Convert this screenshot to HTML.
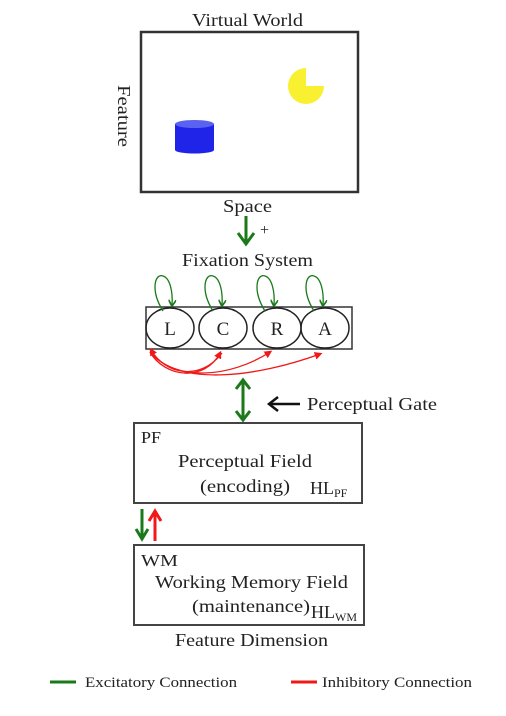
<!DOCTYPE html>
<html><head><meta charset="utf-8"><style>
body{margin:0;background:#fff;}
svg text{font-family:"Liberation Serif",serif;fill:#222;}
</style></head><body>
<svg width="506" height="711" viewBox="0 0 506 711" xmlns="http://www.w3.org/2000/svg">
<defs>
<marker id="g" markerWidth="6" markerHeight="6" refX="4" refY="3" orient="auto" markerUnits="strokeWidth"><path d="M0,0 L5,3 L0,6" fill="none" stroke="#1a7a1a" stroke-width="1.3"/></marker>
<marker id="r" markerWidth="6" markerHeight="6" refX="4" refY="3" orient="auto" markerUnits="strokeWidth"><path d="M0,0 L6,3 L0,6z" fill="#f01818"/></marker>
</defs>
<text x="192" y="26" font-size="18" textLength="111" lengthAdjust="spacingAndGlyphs">Virtual World</text>
<rect x="141" y="32" width="217" height="160" fill="#fff" stroke="#333" stroke-width="2.5"/>
<text x="0" y="0" font-size="18" textLength="62" lengthAdjust="spacingAndGlyphs" transform="translate(118,85) rotate(90)">Feature</text>
<rect x="175" y="124" width="39" height="26" fill="#1f24e8"/>
<ellipse cx="194.5" cy="150" rx="19.5" ry="3.5" fill="#1f24e8"/>
<ellipse cx="194.5" cy="124" rx="19.5" ry="4" fill="#5a62f0"/>
<path d="M306,86 L306,68 A18,18 0 1,0 324,86 Z" fill="#f8f030"/>
<text x="223" y="212" font-size="18" textLength="49" lengthAdjust="spacingAndGlyphs">Space</text>
<line x1="246" y1="216" x2="246" y2="243" stroke="#1a7a1a" stroke-width="3"/>
<path d="M238,233 L246,244 L254,233" fill="none" stroke="#1a7a1a" stroke-width="3"/>
<text x="260" y="235" font-size="16">+</text>
<text x="182" y="266" font-size="18" textLength="131" lengthAdjust="spacingAndGlyphs">Fixation System</text>
<rect x="146" y="307" width="206" height="42" fill="#fff" stroke="#333" stroke-width="1.5"/>
<g fill="none" stroke="#222" stroke-width="1.5">
<ellipse cx="170" cy="328" rx="24" ry="20"/><ellipse cx="223" cy="328" rx="24" ry="20"/>
<ellipse cx="277" cy="328" rx="24" ry="20"/><ellipse cx="325" cy="328" rx="24" ry="20"/>
</g>
<g font-size="19" text-anchor="middle"><text x="170" y="335">L</text><text x="223" y="335">C</text><text x="277" y="335">R</text><text x="325" y="335">A</text></g>
<g fill="none" stroke="#1a7a1a" stroke-width="1.3" marker-end="url(#g)">
<path d="M163,311 C150,290 155,273 163,276 C170,278 173,292 172,305"/>
<path d="M213,311 C200,290 205,273 213,276 C220,278 223,292 222,305"/>
<path d="M265,311 C252,290 257,273 265,276 C272,278 275,292 274,305"/>
<path d="M314,311 C301,290 306,273 314,276 C321,278 324,292 323,305"/>
</g>
<g fill="none" stroke="#f01818" stroke-width="1.3">
<path d="M150,352 C165,378 205,382 220,353" marker-end="url(#r)"/>
<path d="M150,352 C175,382 230,378 270,352" marker-end="url(#r)"/>
<path d="M150,352 C180,388 260,376 320,354" marker-end="url(#r)"/>
<path d="M222,353 C200,382 165,374 151,350" marker-end="url(#r)"/>
</g>
<line x1="243" y1="382" x2="243" y2="418" stroke="#1a7a1a" stroke-width="3"/>
<path d="M236,389 L243,380 L250,389 M236,411 L243,420 L250,411" fill="none" stroke="#1a7a1a" stroke-width="3"/>
<line x1="270" y1="404" x2="300" y2="404" stroke="#111" stroke-width="2.5"/>
<path d="M278,397 L269,404 L278,411" fill="none" stroke="#111" stroke-width="2.5"/>
<text x="307" y="410" font-size="18" textLength="130" lengthAdjust="spacingAndGlyphs">Perceptual Gate</text>
<rect x="134" y="423" width="228" height="80" fill="#fff" stroke="#444" stroke-width="2"/>
<text x="141" y="443" font-size="17" textLength="20" lengthAdjust="spacingAndGlyphs">PF</text>
<text x="178" y="467" font-size="18" textLength="134" lengthAdjust="spacingAndGlyphs">Perceptual Field</text>
<text x="200" y="492" font-size="18" textLength="90" lengthAdjust="spacingAndGlyphs">(encoding)</text>
<text x="310" y="494" font-size="18">HL<tspan font-size="12" dy="3">PF</tspan></text>
<line x1="142" y1="509" x2="142" y2="537" stroke="#1a7a1a" stroke-width="3"/>
<path d="M136,529 L142,539 L148,529" fill="none" stroke="#1a7a1a" stroke-width="3"/>
<line x1="155" y1="514" x2="155" y2="541" stroke="#f01818" stroke-width="3"/>
<path d="M149,521 L155,511 L161,521" fill="none" stroke="#f01818" stroke-width="3"/>
<rect x="134" y="545" width="230" height="80" fill="#fff" stroke="#444" stroke-width="2"/>
<text x="141" y="566" font-size="17" textLength="37" lengthAdjust="spacingAndGlyphs">WM</text>
<text x="155" y="588" font-size="18" textLength="193" lengthAdjust="spacingAndGlyphs">Working Memory Field</text>
<text x="192" y="612" font-size="18" textLength="118" lengthAdjust="spacingAndGlyphs">(maintenance)</text>
<text x="311" y="618" font-size="18">HL<tspan font-size="12" dy="3">WM</tspan></text>
<text x="175" y="646" font-size="18" textLength="153" lengthAdjust="spacingAndGlyphs">Feature Dimension</text>
<line x1="50" y1="682" x2="76" y2="682" stroke="#1a7a1a" stroke-width="3"/>
<text x="85" y="687" font-size="15" textLength="152" lengthAdjust="spacingAndGlyphs">Excitatory Connection</text>
<line x1="291" y1="682" x2="317" y2="682" stroke="#f01818" stroke-width="3"/>
<text x="322" y="687" font-size="15" textLength="150" lengthAdjust="spacingAndGlyphs">Inhibitory Connection</text>
</svg>
</body></html>
